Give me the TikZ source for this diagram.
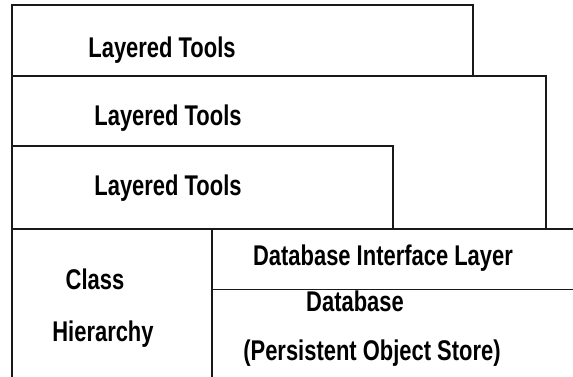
\documentclass[tikz,border=0pt]{standalone}
\usepackage{fontspec}
\newfontfamily\lyfont[FakeStretch=0.77]{Liberation Sans}
\begin{document}
\begin{tikzpicture}[x=1pt,y=-1pt,
  box/.style={draw=black!90, line width=1.7pt, fill=white, inner sep=0pt, anchor=north west},
  lbl/.style={font=\lyfont\bfseries\fontsize{28.5}{32}\selectfont, inner sep=0pt, anchor=base, align=center}]
\useasboundingbox (0,0) rectangle (573,376);
\clip (0,0) rectangle (573,376);
% layered tool boxes
\node[box, minimum width=461pt, minimum height=71pt] (t1) at (11,4) {};
\node[box, minimum width=534pt, minimum height=153pt] (t2) at (11,75) {};
\node[box, minimum width=381pt, minimum height=83pt] (t3) at (11,145) {};
% bottom row
\node[box, minimum width=200pt, minimum height=160pt] (ch) at (11,228) {};
\node[box, minimum width=380pt, minimum height=60.5pt] (dil) at (211,228) {};
\node[box, minimum width=380pt, minimum height=100pt] (db) at (211,288.5) {};
% labels
\node[lbl] (l1) at (162,57.5) {Layered Tools};
\node[lbl] (l2) at (168,125.5) {Layered Tools};
\node[lbl] (l3) at (168,195.5) {Layered Tools};
\node[lbl] (dl) at (383,265.5) {Database Interface Layer};
\node[lbl] (c1) at (95,289) {Class};
\node[lbl] (c2) at (103,341) {Hierarchy};
\node[lbl] (d1) at (355,311) {Database};
\node[lbl] (d2) at (372,360) {(Persistent Object Store)};
\end{tikzpicture}
\end{document}
